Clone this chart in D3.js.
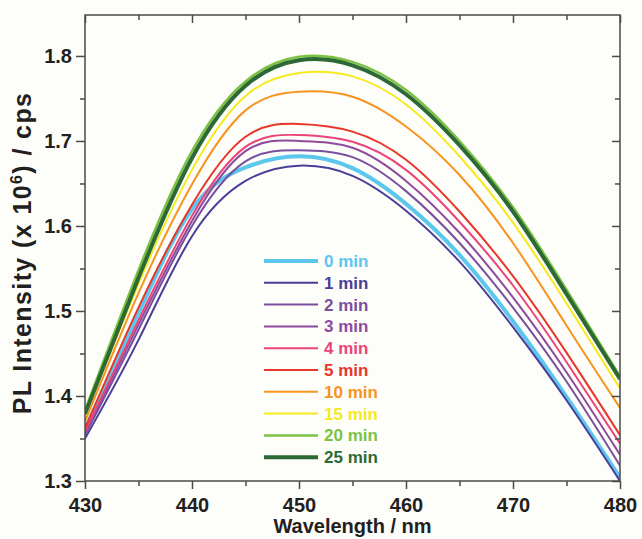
<!DOCTYPE html>
<html>
  <head>
    <meta charset="utf-8">
    <title>PL intensity vs wavelength</title>
    <script src="https://d3js.org/d3.v7.min.js"></script>
  </head>
  <body style="margin:0; background:#fdfdfa;">

    <style>
      text {
        font-family: Arial, "Liberation Sans", sans-serif;
        font-weight: bold;
        fill: #231f20;
      }
      .frame {
        fill: none;
        stroke: #4a4a4a;
        stroke-width: 1.5;
      }
      .tick line {
        stroke: #4a4a4a;
        stroke-width: 1.5;
      }
      .spectrum {
        fill: none;
        stroke-linejoin: round;
      }
    </style>

    <div id="chart"></div>
    <script>

      // wavelength grid (nm)
      var wavelengths = [430, 435, 440, 445, 450, 455, 460, 465, 470, 475, 480];

      // series labels and colours
      var labels = ["0 min", "1 min", "2 min", "3 min", "4 min", "5 min",
                    "10 min", "15 min", "20 min", "25 min"];
      var colors = ["#5bc7ec", "#4a3f98", "#7a4f9f", "#8e4b9d", "#ea4479", "#e8362b",
                    "#f7941d", "#f5ea1f", "#7cc142", "#2c6934"];
      var widths = [4, 2, 2, 2, 2, 2, 2, 2, 2.5, 4];

      // PL intensity (x 10^6 cps), one array per time
      var min0  = [1.361, 1.497, 1.620, 1.669, 1.682, 1.668, 1.626, 1.566, 1.488, 1.399, 1.304];
      var min1  = [1.350, 1.466, 1.588, 1.653, 1.671, 1.659, 1.618, 1.558, 1.481, 1.395, 1.300];
      var min2  = [1.354, 1.478, 1.600, 1.676, 1.689, 1.681, 1.641, 1.580, 1.504, 1.417, 1.318];
      var min3  = [1.356, 1.484, 1.606, 1.688, 1.700, 1.692, 1.653, 1.592, 1.516, 1.428, 1.331];
      var min4  = [1.358, 1.489, 1.612, 1.693, 1.707, 1.699, 1.666, 1.605, 1.530, 1.440, 1.344];
      var min5  = [1.362, 1.504, 1.625, 1.705, 1.720, 1.711, 1.678, 1.617, 1.541, 1.451, 1.354];
      var min10 = [1.370, 1.521, 1.649, 1.736, 1.758, 1.752, 1.717, 1.660, 1.580, 1.483, 1.386];
      var min15 = [1.376, 1.532, 1.666, 1.753, 1.780, 1.776, 1.743, 1.682, 1.604, 1.509, 1.409];
      var min20 = [1.383, 1.548, 1.688, 1.770, 1.799, 1.793, 1.760, 1.700, 1.622, 1.525, 1.423];
      var min25 = [1.379, 1.539, 1.680, 1.765, 1.795, 1.789, 1.755, 1.695, 1.617, 1.520, 1.420];

      var seriesValues = [min0, min1, min2, min3, min4, min5, min10, min15, min20, min25];

      var xTicks = [430, 440, 450, 460, 470, 480];
      var yTicks = [1.3, 1.4, 1.5, 1.6, 1.7, 1.8];

      // note: "top" is a read-only window property, so use plot* names
      var width = 642,
        height = 539,
        plotLeft = 85, plotRight = 620, plotTop = 15, plotBottom = 481;

      var svg = d3.select("#chart")
        .append("svg")
          .attr("width", width)
          .attr("height", height);

      var x = d3.scaleLinear().domain([430, 480]).range([plotLeft, plotRight]);
      var y = d3.scaleLinear().domain([1.3, 1.8482]).range([plotBottom, plotTop]);

      svg.append("defs").append("clipPath")
          .attr("id", "plot")
        .append("rect")
          .attr("x", plotLeft).attr("y", plotTop)
          .attr("width", plotRight - plotLeft).attr("height", plotBottom - plotTop);

      var line = d3.line()
        .x((d) => x(d[0]))
        .y((d) => y(d[1]))
        .curve(d3.curveNatural);

      svg.append("g")
          .attr("clip-path", "url(#plot)")
        .selectAll("path")
        .data(seriesValues)
        .enter().append("path")
          .attr("class", "spectrum")
          .attr("d", (vals) => line(vals.map((v, i) => [wavelengths[i], v])))
          .style("stroke", (d, i) => colors[i])
          .style("stroke-width", (d, i) => widths[i]);

      // minor ticks (no labels) then major ticks with labels
      var xMinor = [435, 445, 455, 465, 475];
      var yMinor = [1.35, 1.45, 1.55, 1.65, 1.75];

      function axisStyle(g) {
        g.select(".domain").remove();
        g.selectAll("text").style("font-size", "20px");
      }

      svg.append("g")
          .attr("transform", "translate(0," + plotBottom + ")")
          .call(d3.axisBottom(x).tickValues(xTicks).tickSize(8).tickPadding(9).tickFormat(d3.format("d")))
          .call(axisStyle);
      svg.append("g")
          .attr("transform", "translate(0," + plotBottom + ")")
          .call(d3.axisBottom(x).tickValues(xMinor).tickSize(5).tickFormat(""))
          .call(axisStyle);

      svg.append("g")
          .attr("transform", "translate(0," + plotTop + ")")
          .call(d3.axisBottom(x).tickValues(xTicks).tickSize(8).tickFormat(""))
          .call(axisStyle);
      svg.append("g")
          .attr("transform", "translate(0," + plotTop + ")")
          .call(d3.axisBottom(x).tickValues(xMinor).tickSize(5).tickFormat(""))
          .call(axisStyle);

      svg.append("g")
          .attr("transform", "translate(" + plotLeft + ",0)")
          .call(d3.axisLeft(y).tickValues(yTicks).tickSize(9).tickPadding(4).tickFormat(d3.format(".1f")))
          .call(axisStyle);
      svg.append("g")
          .attr("transform", "translate(" + plotLeft + ",0)")
          .call(d3.axisLeft(y).tickValues(yMinor).tickSize(5).tickFormat(""))
          .call(axisStyle);

      svg.append("g")
          .attr("transform", "translate(" + plotRight + ",0)")
          .call(d3.axisLeft(y).tickValues(yTicks).tickSize(8).tickFormat(""))
          .call(axisStyle);
      svg.append("g")
          .attr("transform", "translate(" + plotRight + ",0)")
          .call(d3.axisLeft(y).tickValues(yMinor).tickSize(5).tickFormat(""))
          .call(axisStyle);

      svg.selectAll(".tick text").style("fill", "#231f20");

      svg.append("rect")
        .attr("class", "frame")
        .attr("x", plotLeft).attr("y", plotTop)
        .attr("width", plotRight - plotLeft).attr("height", plotBottom - plotTop);

      // axis titles
      svg.append("text")
        .attr("x", (plotLeft + plotRight) / 2)
        .attr("y", 533)
        .attr("text-anchor", "middle")
        .style("font-size", "20px")
        .text("Wavelength / nm");

      var yTitle = svg.append("text")
        .attr("transform", "translate(31,253) rotate(-90)")
        .attr("text-anchor", "middle")
        .style("font-size", "25px")
        .style("letter-spacing", "1.4px");
      yTitle.append("tspan").text("PL Intensity (x 10");
      yTitle.append("tspan").attr("dy", -9).style("font-size", "16px").text("6");
      yTitle.append("tspan").attr("dy", 9).text(") / cps");

      // legend
      var legend = svg.append("g")
        .selectAll("g")
        .data(labels)
        .enter().append("g")
          .attr("transform", (d, i) => "translate(264," + (261 + i * 21.8) + ")");

      legend.append("line")
        .attr("x1", 0).attr("x2", 54)
        .style("stroke", (d, i) => colors[i])
        .style("stroke-width", (d, i) => widths[i]);

      legend.append("text")
        .attr("x", 60)
        .attr("dy", "0.35em")
        .style("font-size", "17px")
        .style("fill", (d, i) => colors[i])
        .text((d) => d);

    </script>
  </body>
</html>
